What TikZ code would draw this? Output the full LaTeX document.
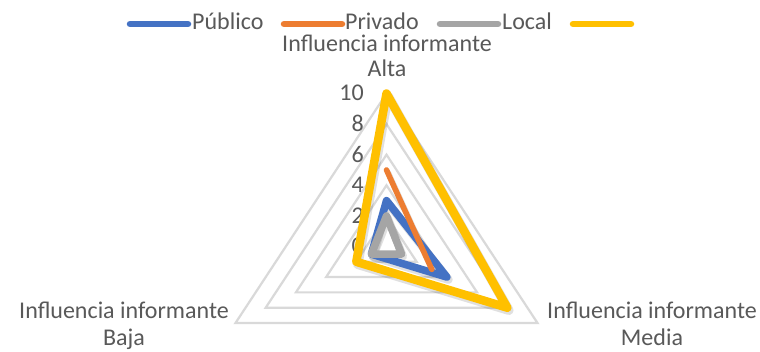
\documentclass[tikz,border=0pt]{standalone}
\usepackage{fontspec}
\setmainfont{Carlito}
\definecolor{cBlue}{HTML}{4472C4}
\definecolor{cOrange}{HTML}{ED7D31}
\definecolor{cGray}{HTML}{A5A5A5}
\definecolor{cYellow}{HTML}{FFC000}
\definecolor{cGrid}{HTML}{D9D9D9}
\definecolor{cText}{HTML}{595959}
\begin{document}
\begin{tikzpicture}[x=1pt,y=-1pt,
  txt/.style={inner sep=0pt,text=cText,font=\fontsize{24}{28}\selectfont},
  gridline/.style={draw=cGrid,line width=2.2pt,line join=miter},
  series/.style={line width=#1,line join=round,line cap=round},
  shadowline/.style={draw=black,opacity=0.12,line width=#1,line join=round,line cap=round},
  legline/.style={line width=6.5pt,line cap=round}]
\useasboundingbox[fill=white] (0,0) rectangle (760,352);
% grid rings
\foreach \v in {2,4,6,8,10}
  \draw[gridline] (386.5,{246.5-15.3*\v}) -- ({386.5+15.1*\v},{246.5+7.65*\v}) -- ({386.5-15.1*\v},{246.5+7.65*\v}) -- cycle;
% axis value labels
\foreach \v in {0,2,4,6,8,10}
  \node[txt,anchor=base east] (val\v) at (364,{246.5-15.3*\v+7.4}) {\v};
% shadows
\begin{scope}[shift={(1.5,2.5)}]
\draw[shadowline=8.5pt] (386.5,200.6) -- (446.9,277.1) -- (371.4,254.15) -- cycle;
\draw[shadowline=6pt] (386.5,170) -- (431.8,269.45);
\draw[shadowline=8pt] (386.5,215.9) -- (401.6,254.15) -- (371.4,254.15) -- cycle;
\draw[shadowline=9.5pt] (386.5,93.5) -- (507.3,307.7) -- (356.3,261.8) -- cycle;
\end{scope}
% series
\draw[series=7.5pt,cBlue] (386.5,200.6) -- (446.9,277.1) -- (371.4,254.15) -- cycle;
\draw[series=5.5pt,cOrange] (386.5,170) -- (431.8,269.45);
\draw[series=7.5pt,cGray] (386.5,215.9) -- (401.6,254.15) -- (371.4,254.15) -- cycle;
\draw[series=8.5pt,cYellow] (386.5,93.5) -- (507.3,307.7) -- (356.3,261.8) -- cycle;
% category labels
\node[txt,anchor=base] (altaA) at (387,52) {Influencia informante};
\node[txt,anchor=base] (altaB) at (387,77) {Alta};
\node[txt,anchor=base] (bajaA) at (124,319) {Influencia informante};
\node[txt,anchor=base] (bajaB) at (124,345) {Baja};
\node[txt,anchor=base] (mediaA) at (652,319) {Influencia informante};
\node[txt,anchor=base] (mediaB) at (652,345) {Media};
% legend
\coordinate (lb1) at (130,24); \coordinate (lb2) at (188,24);
\coordinate (lo1) at (284,24); \coordinate (lo2) at (342,24);
\coordinate (lg1) at (440,24); \coordinate (lg2) at (498,24);
\coordinate (ly1) at (573,24); \coordinate (ly2) at (631,24);
\draw[legline,cBlue] (lb1) -- (lb2);
\draw[legline,cOrange] (lo1) -- (lo2);
\draw[legline,cGray] (lg1) -- (lg2);
\draw[legline,cYellow] (ly1) -- (ly2);
\node[txt,anchor=base west] (legPub) at (192,30) {Público};
\node[txt,anchor=base west] (legPri) at (345,30) {Privado};
\node[txt,anchor=base west] (legLoc) at (502,30) {Local};
\end{tikzpicture}
\end{document}
